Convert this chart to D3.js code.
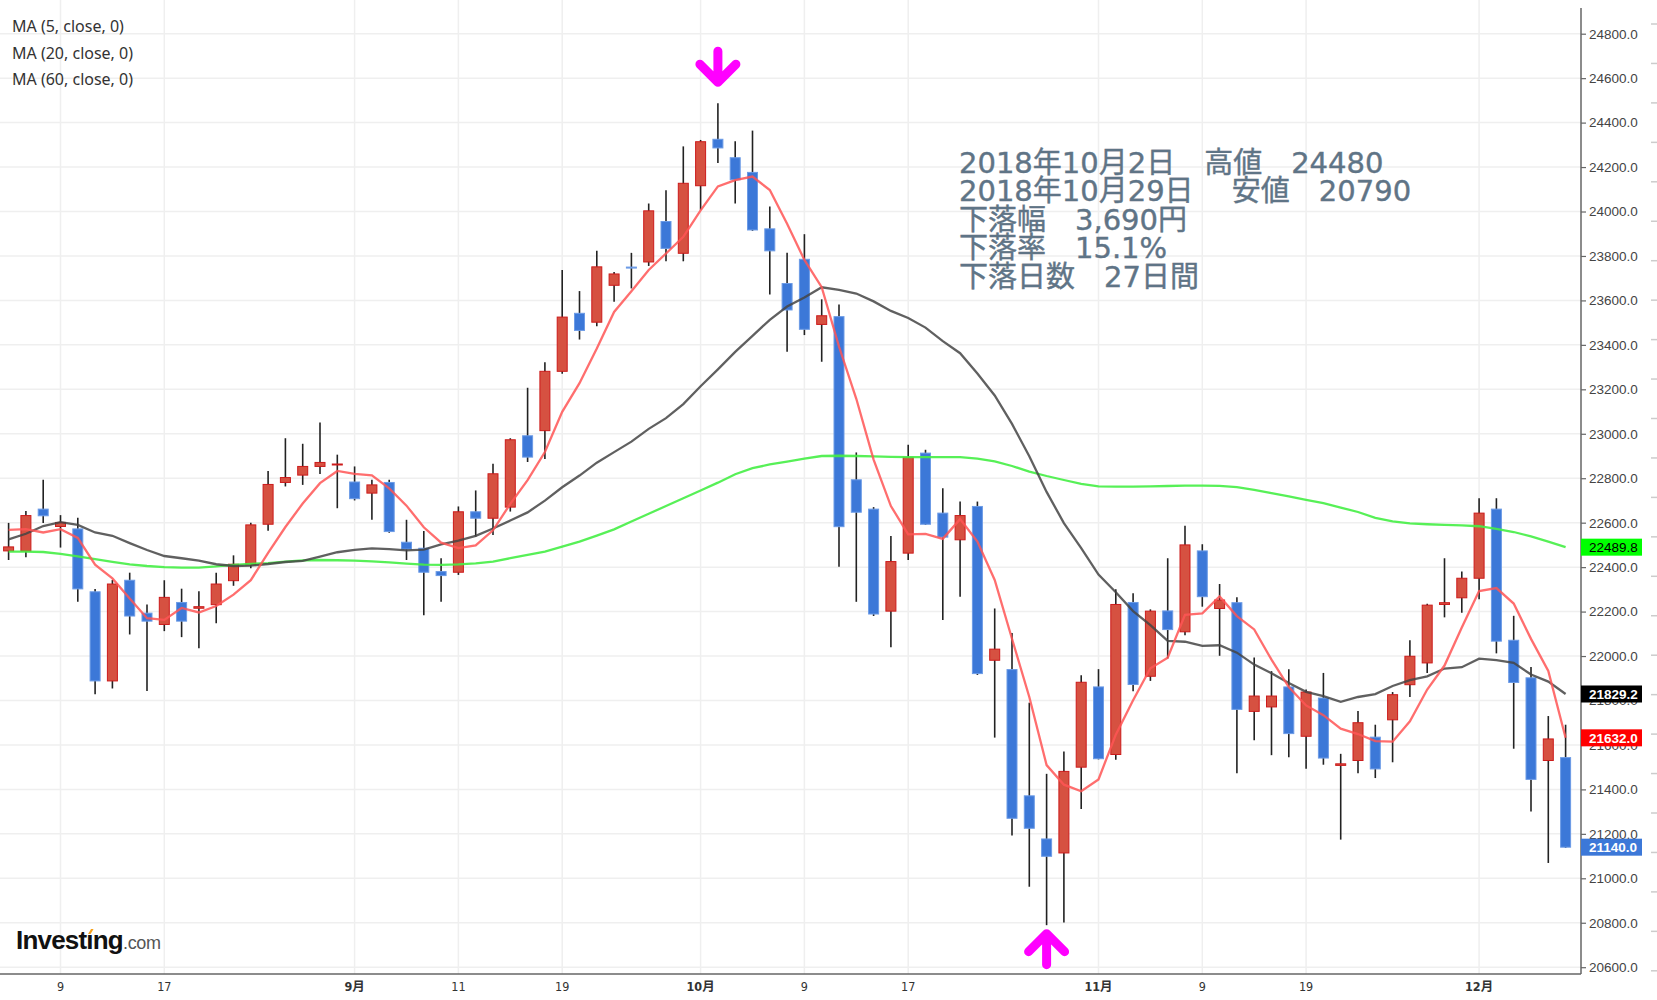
<!DOCTYPE html>
<html>
<head>
<meta charset="utf-8">
<title>日経平均 日足 2018</title>
<script src="https://cdn.jsdelivr.net/npm/d3@7/dist/d3.min.js"></script>
<style>
  body { margin: 0; background: #fff; }
  svg { display: block; }
  .axis-y text { font-family: "Liberation Sans", Arial, sans-serif; font-size: 13.5px; fill: #444; }
  .axis-y line { stroke: #666; stroke-width: 1.2; }
</style>
</head>
<body>
<svg id="chart" width="1657" height="1000"></svg>
<script>
// daily candles Aug 6 - Dec 10 2018
const opens = [22473,22472,22661,22583,22572,22289,21888,22341,22193,22142,
  22241,22215,22231,22339,22410,22593,22781,22814,22853,22860,
  22783,22733,22781,22512,22485,22380,22377,22649,22620,22670,
  22991,23014,23281,23542,23502,23668,23750,23773,23955,23812,
  24116,24325,24242,24176,23922,23676,23785,23492,23527,22793,
  22661,22202,22463,22913,22643,22523,22673,21981,21939,21371,
  21177,21114,21500,21861,21557,22241,21909,22203,22109,22473,
  22214,22240,21751,21771,21861,21639,21811,21508,21530,21635,
  21713,21871,21969,22232,22262,22350,22661,22071,21902,21530,
  21543];
const highs = [22599,22653,22793,22634,22622,22302,22342,22375,22232,22341,
  22303,22291,22375,22453,22600,22832,22980,22955,23051,22906,
  22853,22793,22793,22613,22563,22440,22673,22745,22865,22980,
  23207,23322,23737,23642,23823,23728,23814,24036,24096,24293,
  24322,24487,24316,24364,24023,23814,23898,23605,23582,22916,
  22670,22540,22951,22928,22755,22695,22695,22214,22104,21790,
  21470,21571,21914,21941,22300,22282,22210,22440,22586,22503,
  22324,22264,21993,21932,21940,21849,21924,21560,21753,21691,
  21838,22071,22235,22440,22380,22710,22710,22181,21951,21730,
  21691];
const lows = [22432,22444,22598,22488,22244,21828,21854,22097,21843,22112,
  22085,22035,22147,22316,22395,22564,22763,22770,22819,22665,
  22700,22613,22555,22432,22184,22244,22365,22537,22545,22650,
  22873,22886,23270,23424,23484,23594,23654,23755,23776,23776,
  24008,24218,24036,23913,23627,23369,23444,23324,22402,22244,
  22180,22040,22432,22590,22162,22267,21915,21633,21192,20962,
  20789,20801,21312,21535,21533,21842,21888,21989,22094,22222,
  22001,21473,21621,21554,21545,21493,21511,21174,21473,21451,
  21522,21816,21924,22174,22195,22255,22012,21583,21300,21069,
  21137];
const closes = [22491,22632,22631,22601,22302,21888,22324,22180,22157,22264,
  22157,22222,22324,22413,22590,22772,22803,22853,22871,22864,
  22708,22770,22560,22481,22377,22362,22649,22620,22820,22973,
  22895,23281,23525,23465,23751,23719,23748,24003,23834,24127,
  24314,24286,24143,23917,23823,23557,23470,23531,22582,22647,
  22189,22425,22894,22593,22535,22632,21921,22031,21270,21225,
  21099,21481,21882,21538,22232,21872,22202,22119,22500,22267,
  22252,21760,21820,21820,21651,21838,21541,21515,21700,21492,
  21826,21999,22229,22240,22350,22643,22067,21881,21445,21627,
  21140];

// MA values before the window is full (earlier closes are off chart)
const ma5Lead = [22568, 22571, 22556, 22571];
const ma20Lead = [22525,22550,22585,22602,22590,22556,22541,22508,22477,22450,
  22440,22429,22413,22405,22407,22414,22423,22428,22447];
// MA60
const ma60 = [22470,22470,22468,22460,22448,22436,22424,22412,22405,22400,
  22398,22398,22403,22410,22415,22418,22425,22430,22432,22431,
  22429,22426,22421,22416,22411,22410,22412,22417,22425,22440,
  22455,22470,22492,22515,22542,22570,22605,22640,22675,22710,
  22745,22780,22818,22845,22862,22875,22888,22900,22901,22900,
  22898,22896,22895,22895,22895,22895,22888,22876,22855,22830,
  22810,22792,22775,22763,22762,22762,22763,22765,22767,22767,
  22766,22760,22748,22733,22718,22703,22688,22668,22648,22622,
  22606,22597,22593,22590,22588,22584,22572,22558,22538,22515,
  22489.8];

const tickDays = ["2018-08-09","2018-08-17","2018-09-03","2018-09-11","2018-09-19","2018-10-01",
  "2018-10-09","2018-10-17","2018-11-01","2018-11-09","2018-11-19","2018-12-03"];
const legendItems = ["MA (5, close, 0)", "MA (20, close, 0)", "MA (60, close, 0)"];
const noteLines = [
  "2018年10月2日　高値　24480",
  "2018年10月29日　 安値　20790",
  "下落幅　3,690円",
  "下落率　15.1%",
  "下落日数　27日間"
];
const highIdx = 41, lowIdx = 60;   // Oct 2 / Oct 29

const dates = d3.utcDays(new Date(Date.UTC(2018, 7, 6)), new Date(Date.UTC(2018, 11, 11)))
  .filter(d => d.getUTCDay() !== 0 && d.getUTCDay() !== 6);

const movAvg = (n, lead) => closes.map((c, i) =>
  i < n - 1 ? lead[i] : d3.mean(closes.slice(i - n + 1, i + 1)));
const ma5 = movAvg(5, ma5Lead);
const ma20 = movAvg(20, ma20Lead);

const plotRight = 1581, plotBottom = 974;
const svg = d3.select("#chart");

const x = d3.scaleLinear().domain([0, dates.length - 1]).range([8.6, 1565.6]);
const y = d3.scaleLinear().domain([20600, 24800]).range([967.2, 33.7]);

svg.append("defs").append("clipPath").attr("id", "plotclip")
  .append("rect").attr("x", 0).attr("y", 0).attr("width", plotRight).attr("height", plotBottom);

// grid
const yTicks = d3.range(20600, 24801, 200);
const isoDay = d3.utcFormat("%Y-%m-%d");
const tickIdx = tickDays.map(s => dates.findIndex(d => isoDay(d) === s));

const grid = svg.append("g");
grid.selectAll("line.h").data(yTicks).join("line").attr("class", "h")
  .attr("x1", 0).attr("x2", plotRight)
  .attr("y1", d => y(d)).attr("y2", d => y(d))
  .attr("stroke", "#efefef").attr("stroke-width", 1.5);
grid.selectAll("line.v").data(tickIdx).join("line").attr("class", "v")
  .attr("x1", d => x(d)).attr("x2", d => x(d))
  .attr("y1", 0).attr("y2", plotBottom)
  .attr("stroke", "#efefef").attr("stroke-width", 1.5);

// legend
svg.append("g").selectAll("text").data(legendItems).join("text")
  .attr("x", 12).attr("y", (d, i) => 32 + i * 26.7)
  .attr("font-family", "'Noto Sans', sans-serif").attr("font-size", 16)
  .attr("fill", "#333").text(d => d);

// annotation
svg.append("g").selectAll("text").data(noteLines).join("text")
  .attr("x", 959).attr("y", (d, i) => 172.7 + i * 28.5)
  .attr("font-family", "'DejaVu Sans', 'Noto Sans CJK JP', sans-serif")
  .attr("font-size", 29).attr("fill", "#5f7486")
  .attr("stroke", "#5f7486").attr("stroke-width", 0.4)
  .text(d => d);

const plot = svg.append("g").attr("clip-path", "url(#plotclip)");

const candles = dates.map((d, i) => ({ i, o: opens[i], h: highs[i], l: lows[i], c: closes[i] }));
const up = d => d.c >= d.o;

plot.append("g").selectAll("line").data(candles).join("line")
  .attr("x1", d => x(d.i)).attr("x2", d => x(d.i))
  .attr("y1", d => y(d.h)).attr("y2", d => y(d.l))
  .attr("stroke", "#222").attr("stroke-width", 1.6);

plot.append("g").selectAll("rect").data(candles).join("rect")
  .attr("x", d => x(d.i) - 5)
  .attr("width", 10)
  .attr("y", d => y(Math.max(d.o, d.c)))
  .attr("height", d => Math.max(1, Math.abs(y(d.o) - y(d.c))))
  .attr("fill", d => up(d) ? "#d65141" : "#3c78d8")
  .attr("stroke", d => up(d) ? "#cc1b1b" : "#6c9be6")
  .attr("stroke-width", 1);

// moving averages
const line = d3.line().x((d, i) => x(i)).y(d => y(d));
plot.append("path").datum(ma60).attr("d", line)
  .attr("fill", "none").attr("stroke", "#45ee45").attr("stroke-width", 2.3).attr("opacity", 0.9);
plot.append("path").datum(ma20).attr("d", line)
  .attr("fill", "none").attr("stroke", "#444").attr("stroke-width", 2.3).attr("opacity", 0.85);
plot.append("path").datum(ma5).attr("d", line)
  .attr("fill", "none").attr("stroke", "#ff5555").attr("stroke-width", 2.3).attr("opacity", 0.85);

// high / low arrows
const arrowPath = (cx, tip, dir) => {
  const len = 31, arm = 18;
  return `M${cx},${tip - dir * len}L${cx},${tip}M${cx - arm},${tip - dir * arm}L${cx},${tip}L${cx + arm},${tip - dir * arm}`;
};
svg.append("path").attr("d", arrowPath(x(highIdx), y(highs[highIdx]) - 21, 1))
  .attr("fill", "none").attr("stroke", "#ff00ff").attr("stroke-width", 9)
  .attr("stroke-linecap", "round").attr("stroke-linejoin", "round");
svg.append("path").attr("d", arrowPath(x(lowIdx), y(lows[lowIdx]) + 8.5, -1))
  .attr("fill", "none").attr("stroke", "#ff00ff").attr("stroke-width", 9)
  .attr("stroke-linecap", "round").attr("stroke-linejoin", "round");

// x axis
svg.append("line").attr("x1", 0).attr("x2", plotRight).attr("y1", plotBottom).attr("y2", plotBottom)
  .attr("stroke", "#666").attr("stroke-width", 1.5);
svg.append("g").selectAll("text").data(tickIdx).join("text")
  .attr("x", d => x(d)).attr("y", 991)
  .attr("text-anchor", "middle")
  .attr("font-family", "'Liberation Sans Narrow', 'Arial Narrow', 'DejaVu Sans Condensed', 'Liberation Sans', 'Noto Sans CJK JP', sans-serif")
  .attr("font-size", 12.5)
  .attr("fill", "#333")
  .attr("font-weight", d => dates[d].getUTCMonth() !== dates[d - 1].getUTCMonth() ? "bold" : "normal")
  .text(d => dates[d].getUTCMonth() !== dates[d - 1].getUTCMonth()
    ? (dates[d].getUTCMonth() + 1) + "月"
    : dates[d].getUTCDate());

// y axis on the right
svg.append("line").attr("x1", plotRight).attr("x2", plotRight).attr("y1", 8).attr("y2", plotBottom)
  .attr("stroke", "#666").attr("stroke-width", 1.5);
const yAxis = svg.append("g").attr("class", "axis-y")
  .attr("transform", `translate(${plotRight},0)`)
  .call(d3.axisRight(y).tickValues(yTicks).tickFormat(d3.format(".1f")).tickSize(5).tickPadding(3).tickSizeOuter(0));
yAxis.select(".domain").remove();

// faint marks at the far right edge
svg.append("g").selectAll("line").data(d3.range(0, 25)).join("line")
  .attr("x1", 1651).attr("x2", 1657)
  .attr("y1", k => 24 + k * 39.45).attr("y2", k => 24 + k * 39.45)
  .attr("stroke", "#ccc").attr("stroke-width", 1.5);

// last value tags
const last = dates.length - 1;
const tags = [
  { v: ma60[last], bg: "#00ff00", fg: "#000", w: "normal" },
  { v: ma20[last], bg: "#000", fg: "#fff", w: "bold" },
  { v: ma5[last], bg: "#ff0000", fg: "#fff", w: "bold" },
  { v: closes[last], bg: "#3c78d8", fg: "#fff", w: "bold" }
];
const tagG = svg.append("g").selectAll("g").data(tags).join("g")
  .attr("transform", d => `translate(${plotRight},${y(d.v)})`);
tagG.append("rect").attr("x", 0).attr("y", -8.5).attr("width", 61).attr("height", 17).attr("fill", d => d.bg);
tagG.append("text").attr("x", 8).attr("y", 5)
  .attr("font-family", "'Liberation Sans', Arial, sans-serif").attr("font-size", 13.5)
  .attr("font-weight", d => d.w).attr("fill", d => d.fg)
  .text(d => d3.format(".1f")(d.v));

// logo
const logo = svg.append("text").attr("x", 16).attr("y", 949)
  .attr("font-family", "'Liberation Sans', Arial, sans-serif");
logo.append("tspan").attr("font-size", 26).attr("font-weight", "bold").attr("fill", "#111")
  .attr("letter-spacing", -0.8).text("Investıng");
logo.append("tspan").attr("font-size", 18).attr("fill", "#555").attr("letter-spacing", -0.3).text(".com");
const dot = logo.node().getStartPositionOfChar(6);
const dotEnd = logo.node().getEndPositionOfChar(6);
svg.append("path")
  .attr("d", `M${(dot.x + dotEnd.x) / 2 - 1.5},${949 - 15}l3,-5l2.5,0l-3,5z`)
  .attr("fill", "#f7a21b");
</script>
</body>
</html>
